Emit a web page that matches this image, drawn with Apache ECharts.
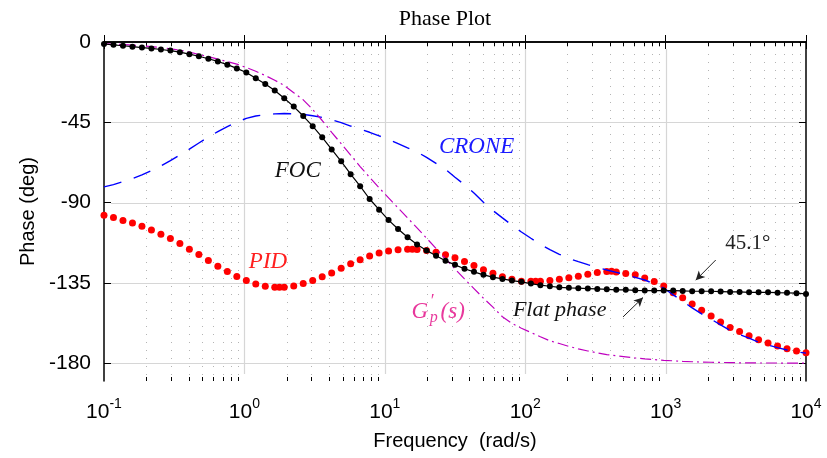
<!DOCTYPE html>
<html>
<head>
<meta charset="utf-8">
<script src="https://cdn.jsdelivr.net/npm/echarts@6/dist/echarts.min.js"></script>
<style>
  html, body { margin: 0; padding: 0; background: #ffffff; }
  #chart { width: 827px; height: 458px; }
</style>
</head>
<body>
<div id="chart"></div>
<script>
// Frequency grid (rad/s), 75 log-spaced samples from 1e-1 to 1e4
const freq = [
  0.1, 0.1168, 0.1365, 0.1595, 0.1863, 0.2177, 0.2543, 0.2971, 0.3472, 0.4056, 0.4739, 0.5537, 0.6469, 0.7558, 0.8830,
  1.032, 1.205, 1.408, 1.645, 1.922, 2.246, 2.624, 3.065, 3.582, 4.184, 4.889, 5.712, 6.673, 7.797, 9.110,
  10.64, 12.43, 14.53, 16.97, 19.83, 23.17, 27.07, 31.62, 36.95, 43.17, 50.43, 58.92, 68.84, 80.43, 93.98,
  109.8, 128.3, 149.9, 175.1, 204.6, 239.0, 279.2, 326.2, 381.1, 445.3, 520.3, 607.9, 710.2, 829.8, 969.4,
  1133, 1323, 1546, 1806, 2110, 2465, 2881, 3365, 3932, 4594, 5367, 6270, 7326, 8559, 10000
];

// Phase of the fractional-order controlled loop (deg)
const focPhase = [
  -1.1, -1.6, -2.1, -2.6, -3.1, -3.6, -4.2, -4.8, -5.7, -6.8, -8.0, -9.4, -10.9, -12.7, -14.8,
  -17.1, -20.3, -23.5, -27.2, -31.5, -36.2, -41.5, -47.2, -53.4, -60.2, -66.9, -74.1, -80.8, -88.0, -94.0,
  -99.8, -104.8, -109.4, -113.5, -116.8, -119.8, -122.6, -124.9, -127.1, -128.8, -130.5, -131.8, -132.8, -133.7, -134.4,
  -135.4, -136.3, -136.9, -137.5, -137.8, -138.0, -138.2, -138.4, -138.6, -138.9, -138.9, -139.2, -139.3, -139.3, -139.3,
  -139.3, -139.5, -139.7, -139.7, -139.7, -139.9, -140.1, -140.1, -140.3, -140.3, -140.3, -140.5, -140.6, -140.8, -141.2
];

// Phase with the PID controller (deg)
const pidPhase = [
  -97.1, -98.4, -100.0, -101.5, -103.3, -105.4, -107.7, -110.1, -112.9, -116.1, -119.1, -122.5, -125.7, -128.6, -131.5,
  -133.7, -135.6, -136.9, -137.5, -137.5, -136.7, -135.4, -133.7, -131.6, -129.4, -126.8, -124.3, -122.1, -120.0, -118.3,
  -117.2, -116.4, -116.1, -116.3, -116.8, -117.9, -119.2, -120.9, -123.0, -125.3, -127.7, -129.6, -131.6, -133.0, -134.1,
  -134.1, -134.1, -133.7, -133.0, -132.2, -131.3, -130.2, -129.2, -128.6, -128.9, -129.8, -130.5, -132.3, -134.3, -136.7,
  -140.5, -143.4, -146.9, -150.3, -153.6, -156.9, -160.0, -162.2, -164.6, -166.9, -168.7, -170.4, -171.9, -173.2, -174.2
];
// extra PID samples at its local extrema
const pidExtraFreq = [1.778, 15.70, 118.7, 412.0];
const pidExtraPhase = [-137.5, -116.1, -134.1, -128.5];

// Phase with the CRONE controller (deg)
const cronePhase = [
  -81.2, -79.9, -78.3, -76.5, -74.5, -72.1, -69.4, -66.5, -63.3, -60.0, -56.6, -53.3, -50.2, -47.4, -44.9,
  -42.8, -41.5, -40.7, -40.3, -40.1, -40.2, -40.6, -41.3, -42.3, -43.6, -45.2, -47.1, -48.9, -50.6, -52.6,
  -54.6, -56.9, -59.3, -61.6, -64.7, -68.0, -71.4, -75.8, -80.0, -84.6, -89.8, -94.5, -98.6, -102.6, -106.5,
  -110.0, -113.4, -116.4, -119.0, -121.3, -123.1, -124.8, -126.3, -127.8, -129.1, -130.4, -131.9, -133.4, -135.5, -137.9,
  -141.7, -145.3, -149.0, -152.4, -155.4, -158.5, -161.7, -164.0, -166.0, -168.2, -169.9, -171.3, -172.6, -173.6, -174.4
];

// Phase of the plant G'p(s) (deg)
const gpPhase = [
  -1.0, -1.2, -1.4, -1.7, -2.1, -2.6, -3.1, -3.8, -4.6, -5.6, -7.0, -8.2, -9.6, -11.0, -12.4,
  -14.3, -16.4, -18.8, -21.4, -24.4, -28.4, -32.4, -37.8, -44.0, -50.6, -57.0, -63.4, -69.8, -75.9, -81.7,
  -87.4, -93.0, -98.6, -104.2, -109.9, -115.7, -121.5, -127.2, -132.8, -138.2, -143.6, -148.6, -154.0, -157.7, -160.4,
  -162.8, -165.2, -167.5, -169.0, -170.6, -172.0, -173.2, -174.2, -175.2, -175.9, -176.5, -177.1, -177.6, -178.0, -178.4,
  -178.7, -179.0, -179.2, -179.4, -179.5, -179.6, -179.7, -179.8, -179.8, -179.9, -179.9, -179.9, -180.0, -180.0, -180.0
];

// Axis ticks
const decadeTicks = [0.1, 1, 10, 100, 1000, 10000];
const phaseTicks = [0, -45, -90, -135, -180];
const minorSteps = [2, 3, 4, 5, 6, 7, 8, 9];
const phaseMin = -190, phaseMax = 0;

const minorFreqs = [];
decadeTicks.slice(0, -1).forEach(d => minorSteps.forEach(m => minorFreqs.push(+(d * m).toPrecision(6))));

const pair = (xs, ys) => xs.map((x, i) => [x, ys[i]]);
const pidData = pair(freq, pidPhase).concat(pair(pidExtraFreq, pidExtraPhase)).sort((a, b) => a[0] - b[0]);

const SANS = 'Liberation Sans';
const SERIF = 'Liberation Serif';

// Grid lines and minor ticks drawn in data space
function renderFrame(params, api) {
  const children = [];
  const px = v => Math.round(v) + 0.5;
  minorFreqs.forEach(f => {
    const a = api.coord([f, phaseMax]), b = api.coord([f, phaseMin]);
    const x = px(a[0]);
    children.push({ type: 'line', shape: { x1: x, y1: a[1] + 4, x2: x, y2: b[1] - 4 },
      style: { stroke: '#b4b4b4', lineWidth: 1, lineDash: [1, 7] } });
    children.push({ type: 'line', shape: { x1: x, y1: a[1], x2: x, y2: a[1] + 4 },
      style: { stroke: '#000', lineWidth: 1 } });
    children.push({ type: 'line', shape: { x1: x, y1: b[1], x2: x, y2: b[1] - 4 },
      style: { stroke: '#000', lineWidth: 1 } });
  });
  decadeTicks.slice(1, -1).forEach(f => {
    const a = api.coord([f, phaseMax]), b = api.coord([f, phaseMin]);
    const x = px(a[0]);
    children.push({ type: 'line', shape: { x1: x, y1: a[1] + 7, x2: x, y2: b[1] - 7 },
      style: { stroke: '#d6d6d6', lineWidth: 1.2 } });
  });
  phaseTicks.slice(1).forEach(p => {
    const a = api.coord([decadeTicks[0], p]), b = api.coord([decadeTicks[decadeTicks.length - 1], p]);
    const y = px(a[1]);
    children.push({ type: 'line', shape: { x1: a[0] + 7, y1: y, x2: b[0] - 7, y2: y },
      style: { stroke: '#d6d6d6', lineWidth: 1.2 } });
  });
  return { type: 'group', children };
}

const axisLineStyle = { color: '#000', width: 1.5 };

const option = {
  animation: false,
  backgroundColor: '#ffffff',
  grid: { left: 104, right: 21, top: 42, bottom: 77, containLabel: false },
  xAxis: [{
    type: 'log', logBase: 10, min: 0.1, max: 10000, position: 'bottom',
    axisLine: { show: true, lineStyle: axisLineStyle },
    axisTick: { show: true, inside: true, length: 7, lineStyle: { color: '#000', width: 1 } },
    splitLine: { show: false },
    axisLabel: {
      margin: 16, color: '#000',
      formatter: v => '{b|10}{e|' + Math.round(Math.log10(v)) + '}',
      rich: {
        b: { fontFamily: SANS, fontSize: 21, color: '#000', lineHeight: 26, verticalAlign: 'bottom' },
        e: { fontFamily: SANS, fontSize: 14, color: '#000', lineHeight: 14, verticalAlign: 'top' }
      }
    },
    name: 'Frequency  (rad/s)', nameLocation: 'middle', nameGap: 50,
    nameTextStyle: { fontFamily: SANS, fontSize: 20, color: '#000' }
  }, {
    type: 'log', logBase: 10, min: 0.1, max: 10000, position: 'top',
    axisLine: { show: true, lineStyle: axisLineStyle },
    axisTick: { show: true, inside: true, length: 7, lineStyle: { color: '#000', width: 1 } },
    splitLine: { show: false }, axisLabel: { show: false }
  }],
  yAxis: [{
    type: 'value', min: phaseMin, max: phaseMax, position: 'left',
    axisLine: { show: true, lineStyle: axisLineStyle },
    axisTick: { show: true, inside: true, length: 7, customValues: phaseTicks, lineStyle: { color: '#000', width: 1 } },
    axisLabel: { customValues: phaseTicks, fontFamily: SANS, fontSize: 21, color: '#000', margin: 13 },
    splitLine: { show: false },
    name: 'Phase (deg)', nameLocation: 'middle', nameGap: 64,
    nameTextStyle: { fontFamily: SANS, fontSize: 20, color: '#000' }
  }, {
    type: 'value', min: phaseMin, max: phaseMax, position: 'right',
    axisLine: { show: true, lineStyle: axisLineStyle },
    axisTick: { show: true, inside: true, length: 7, customValues: phaseTicks, lineStyle: { color: '#000', width: 1 } },
    axisLabel: { show: false }, splitLine: { show: false }
  }],
  series: [
    {
      type: 'custom', name: 'frame', silent: true, z: 0,
      renderItem: renderFrame, data: [[decadeTicks[0], phaseMax]], encode: { x: 0, y: 1 }
    },
    {
      type: 'line', name: 'PID', data: pidData, z: 3,
      symbol: 'circle', symbolSize: 7, showAllSymbol: true,
      itemStyle: { color: '#ff0000' }, lineStyle: { width: 0, opacity: 0 }
    },
    {
      type: 'line', name: 'CRONE', data: pair(freq, cronePhase), z: 4,
      showSymbol: false, smooth: false,
      lineStyle: { color: '#0000ff', width: 1.4, type: [18, 13] }
    },
    {
      type: 'line', name: 'Gp', data: pair(freq, gpPhase), z: 4,
      showSymbol: false,
      lineStyle: { color: '#bf00bf', width: 1.2, type: [11, 4, 2, 4] }
    },
    {
      type: 'line', name: 'FOC', data: pair(freq, focPhase), z: 5,
      symbol: 'circle', symbolSize: 6, showAllSymbol: true,
      itemStyle: { color: '#000000' }, lineStyle: { color: '#000', width: 1.2 },
      markLine: {
        silent: true, symbol: ['none', 'arrow'], symbolSize: [7, 9], animation: false,
        label: { show: false },
        lineStyle: { color: '#222', width: 1, type: 'solid' },
        data: [
          [{ coord: [497.3, -154.1] }, { coord: [690.5, -143.2] }],
          [{ coord: [2275, -122.2] }, { coord: [1639, -133.5] }]
        ]
      }
    }
  ]
};

const chart = echarts.init(document.getElementById('chart'), null, { renderer: 'canvas' });
chart.setOption(option);

// Text annotations anchored in data coordinates
const at = (f, p) => chart.convertToPixel({ xAxisIndex: 0, yAxisIndex: 0 }, [f, p]);
const mathText = (pos, text, color, size, italic = true) => ({
  type: 'text', x: pos[0], y: pos[1], silent: true, z: 20,
  style: { text, fill: color, fontFamily: SERIF, fontSize: size, fontStyle: italic ? 'italic' : 'normal',
    align: 'center', verticalAlign: 'middle' }
});
const gp = at(24.6, -151.4);
chart.setOption({
  graphic: [
    { type: 'text', x: 445, y: 19, silent: true,
      style: { text: 'Phase Plot', fill: '#000', fontFamily: SERIF, fontSize: 22, align: 'center', verticalAlign: 'middle' } },
    mathText(at(2.40, -72.3), 'FOC', '#111', 23),
    mathText(at(45.1, -58.8), 'CRONE', '#1a1aff', 23),
    mathText(at(1.473, -123.4), 'PID', '#ff2020', 23),
    mathText(at(176, -150.3), 'Flat phase', '#111', 22),
    mathText(at(3846, -112.7), '45.1°', '#222', 21, false),
    mathText([gp[0] - 20, gp[1]], 'G', '#e8389c', 23),
    mathText([gp[0] - 7, gp[1] - 10], '′', '#e8389c', 18, false),
    mathText([gp[0] - 6, gp[1] + 6], 'p', '#e8389c', 16),
    mathText([gp[0] + 13, gp[1]], '(s)', '#e8389c', 23),
  ]
});
</script>
</body>
</html>
